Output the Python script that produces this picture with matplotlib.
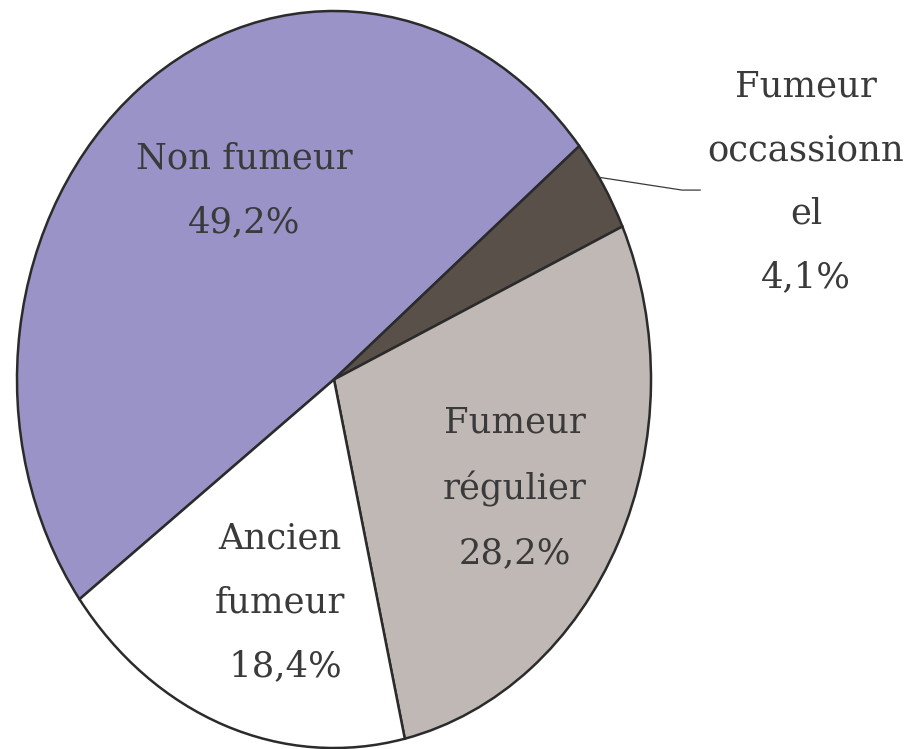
import matplotlib
matplotlib.use("Agg")
import matplotlib.pyplot as plt

labels = ["Non fumeur", "Fumeur\noccassionn\nel", "Fumeur\nrégulier", "Ancien\nfumeur"]
values = [49.2, 4.1, 28.2, 18.4]
pct_text = ["49,2%", "4,1%", "28,2%", " 18,4%"]
colors = ["#9a93c8", "#595049", "#c0b8b5", "#ffffff"]

W, H = 913, 749
fig = plt.figure(figsize=(W / 100, H / 100), dpi=100)
# pie spans pixel x 17..651, y 11..748
ax = fig.add_axes([17 / W, 1 / H, 634 / W, 737 / H])
ax.pie(values, colors=colors, startangle=216.6, counterclock=False,
       wedgeprops=dict(edgecolor="#2b2b2b", linewidth=1.8))
ax.set_aspect("auto")
ax.set_xlim(-1.0, 1.0)
ax.set_ylim(-1.0, 1.0)

font = dict(family="DejaVu Serif", fontsize=25.5, color="#3a3a3a",
            ha="center", va="center", linespacing=2.1)
pos = [(-0.284, 0.514), (1.489, 0.536), (0.571, -0.294), (-0.170, -0.604)]
for lab, pt, (x, y) in zip(labels, pct_text, pos):
    ax.text(x, y, lab + "\n" + pt, clip_on=False, **font)

ax.plot([0.830, 1.098, 1.155], [0.5495, 0.514, 0.514], color="#3a3a3a",
        linewidth=0.9, clip_on=False)

fig.savefig("out.png", dpi=100)
